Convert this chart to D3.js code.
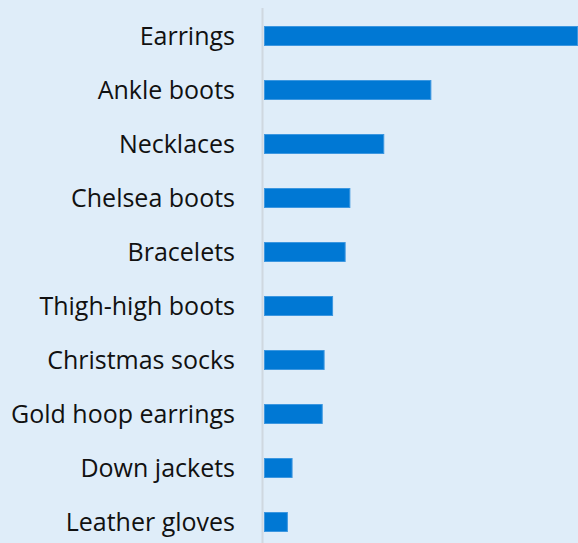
<!DOCTYPE html>
<html>
<head>
<meta charset="utf-8">
<script src="https://cdn.jsdelivr.net/npm/d3@7"></script>
<style>
  html, body { margin: 0; padding: 0; background: #dfedf9; }
  svg { display: block; }
</style>
</head>
<body>
<svg id="chart" width="578" height="543"></svg>
<script>
const categories = ["Earrings", "Ankle boots", "Necklaces", "Chelsea boots", "Bracelets",
  "Thigh-high boots", "Christmas socks", "Gold hoop earrings", "Down jackets", "Leather gloves"];
const values = [100, 53.3, 38.3, 27.5, 26, 22, 19.3, 18.7, 9.1, 7.6];

(function () {
  const W = 578, H = 543;
  const mLeft = 264, mRight = 578, mTop = 9, mBottom = 549;
  const svg = d3.select("#chart");

  svg.append("rect").attr("width", W).attr("height", H).attr("fill", "#dfedf9");

  const x = d3.scaleLinear().domain([0, 100]).range([mLeft, mRight]);
  const y = d3.scaleBand().domain(categories).range([mTop, mBottom]).paddingInner(0.63).paddingOuter(0.315);

  svg.append("line")
    .attr("x1", mLeft - 1.5).attr("x2", mLeft - 1.5)
    .attr("y1", 8).attr("y2", H)
    .attr("stroke", "#cfd8e0").attr("stroke-width", 2);

  const data = categories.map((c, i) => ({ c, v: values[i] }));

  svg.selectAll("rect.bar").data(data).join("rect")
    .attr("class", "bar")
    .attr("x", x(0) + 0.5)
    .attr("y", d => y(d.c) + 0.5)
    .attr("width", d => x(d.v) - x(0) - 1)
    .attr("height", y.bandwidth() - 1)
    .attr("fill", "#0078d4")
    .attr("stroke", "#3d97e0")
    .attr("stroke-width", 1);

  svg.selectAll("text.lbl").data(data).join("text")
    .attr("class", "lbl")
    .attr("x", 235)
    .attr("y", d => y(d.c) + y.bandwidth() / 2)
    .attr("dy", "0.35em")
    .attr("text-anchor", "end")
    .attr("font-family", "'Open Sans', 'Noto Sans', sans-serif")
    .attr("font-size", 25)
    .attr("fill", "#111111")
    .text(d => d.c);
})();
</script>
</body>
</html>
